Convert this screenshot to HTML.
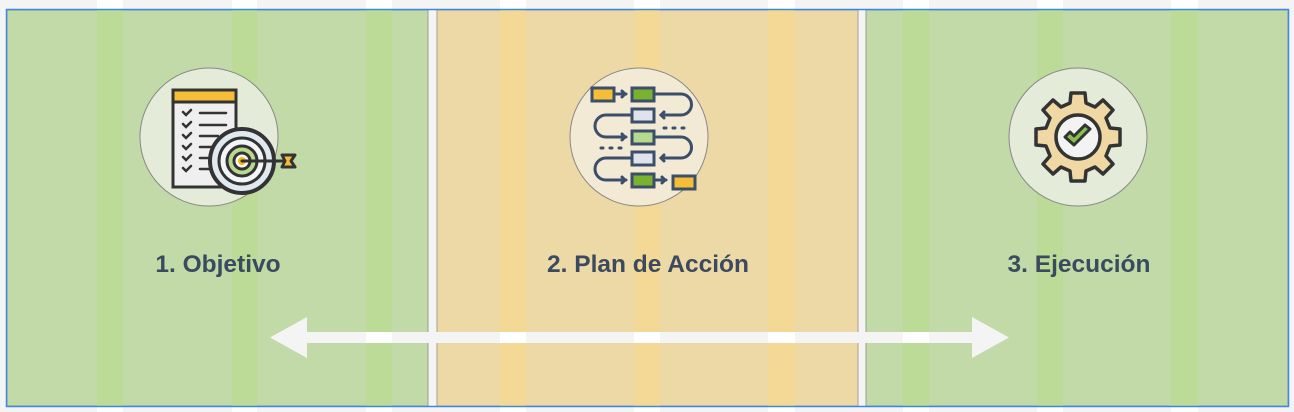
<!DOCTYPE html>
<html><head><meta charset="utf-8"><style>
html,body{margin:0;padding:0;background:#f4f4f4;}
svg{display:block}
text{font-family:"Liberation Sans",sans-serif;font-weight:bold;font-size:24.5px;fill:#3b4a5e;text-anchor:middle}
</style></head><body>
<svg width="1294" height="412" viewBox="0 0 1294 412" xmlns="http://www.w3.org/2000/svg">
<rect width="1294" height="412" fill="#f4f4f4"/>
<g fill="#ffffff">
<rect x="97" y="0" width="26" height="412"/><rect x="232" y="0" width="25" height="412"/><rect x="366" y="0" width="26" height="412"/>
<rect x="500" y="0" width="26" height="412"/><rect x="634" y="0" width="26" height="412"/><rect x="768" y="0" width="27" height="412"/>
<rect x="903" y="0" width="26" height="412"/><rect x="1037" y="0" width="26" height="412"/><rect x="1171" y="0" width="27" height="412"/>
</g>
<rect x="7" y="10" width="421" height="396" fill="#c2d9a8" stroke="#9aa08f" stroke-width="1"/>
<rect x="437" y="10" width="421" height="396" fill="#ecd9a6" stroke="#a9a08a" stroke-width="1"/>
<rect x="866" y="10" width="422" height="396" fill="#c2d9a8" stroke="#9aa08f" stroke-width="1"/>
<g fill="#bcdb96">
<rect x="97" y="10" width="26" height="396"/><rect x="232" y="10" width="25" height="396"/><rect x="366" y="10" width="26" height="396"/>
<rect x="903" y="10" width="26" height="396"/><rect x="1037" y="10" width="26" height="396"/><rect x="1171" y="10" width="27" height="396"/>
</g>
<g fill="#f4d996">
<rect x="500" y="10" width="26" height="396"/><rect x="634" y="10" width="26" height="396"/><rect x="768" y="10" width="27" height="396"/>
</g>
<rect x="6.5" y="9.5" width="1282" height="397" fill="none" stroke="#3b8ae0" stroke-width="1.5"/>

<circle cx="209" cy="137" r="69" fill="#e4ecd9" stroke="#888" stroke-width="1"/>
<circle cx="639" cy="137" r="69" fill="#f3ead6" stroke="#888" stroke-width="1"/>
<circle cx="1078" cy="137" r="69" fill="#e4ecd9" stroke="#888" stroke-width="1"/>

<g stroke="#333" stroke-width="3" fill="none" stroke-linecap="round">
<rect x="173" y="90" width="63" height="97" fill="#efefef"/>
<rect x="174.5" y="91.5" width="60" height="10" fill="#f6bd36" stroke="none"/>
<line x1="173" y1="102" x2="236" y2="102"/>
<g stroke-width="2.5">
<path d="M183 112l3 3 5-5M183 124l3 3 5-5M183 135l3 3 5-5M183 146l3 3 5-5M183 157l3 3 5-5M183 168l3 3 5-5"/>
<path d="M200 113h26M200 125h26M200 136h18M200 147h12M200 158h10M200 169h10"/>
</g>
<circle cx="242" cy="161" r="32" fill="#dfe9ef" stroke-width="4"/>
<circle cx="242" cy="161" r="23" fill="#f2f6f8" stroke-width="3"/>
<circle cx="242" cy="161" r="15" fill="#b9d98e" stroke-width="3"/>
<circle cx="242" cy="161" r="8" fill="#fff" stroke-width="3"/>
<circle cx="242" cy="161" r="3" fill="#f6b80e" stroke="#f6b80e" stroke-width="2"/>
<line x1="242" y1="161" x2="282" y2="161"/>
<path d="M282 155h13l-4 6 4 6h-13l3-6z" fill="#f6bd36" stroke-width="3" stroke-linejoin="round"/>
</g>

<g stroke="#3b4f6b" stroke-width="3" fill="none" stroke-linecap="round">
<rect x="592" y="88" width="22" height="13" fill="#f6bd36"/>
<rect x="632" y="88" width="22" height="13" fill="#78b22f"/>
<rect x="632" y="109" width="22" height="13" fill="#e0e3eb"/>
<rect x="632" y="131" width="22" height="13" fill="#b6d98e"/>
<rect x="632" y="152" width="22" height="13" fill="#e0e3eb"/>
<rect x="632" y="174" width="22" height="13" fill="#78b22f"/>
<rect x="673" y="176" width="22" height="13" fill="#f6bd36"/>
<path d="M616 94h10M622 91l3 3-3 3"/>
<path d="M656 94h25a10 10 0 0 1 0 21h-20M664 112l-3 3 3 3"/>
<path d="M630 115h-24a10 10 0 0 0 0 22h20M622 134l3 3-3 3"/>
<path d="M656 137h25a10 10 0 0 1 0 21h-20M664 155l-3 3 3 3"/>
<path d="M630 158h-24a10 10 0 0 0 0 22h20M622 177l3 3-3 3"/>
<path d="M656 180h10M662 177l3 3-3 3"/>
<path d="M664 128h2M673 128h2M682 128h2M601 148h2M610 148h2M619 148h2" stroke-width="3"/>
</g>

<g transform="translate(1078,137)" stroke="#333" stroke-width="3.5" stroke-linejoin="round">
<path fill="#efd8a3" d="M-7,-44 L7,-44 L8,-34 L17,-30 L25,-37 L35,-27 L28,-19 L32,-9 L42,-8 L42,8 L32,9 L28,19 L35,27 L25,37 L17,30 L8,34 L7,44 L-7,44 L-8,34 L-17,30 L-25,37 L-35,27 L-28,19 L-32,9 L-42,8 L-42,-8 L-32,-9 L-28,-19 L-35,-27 L-25,-37 L-17,-30 L-8,-34 Z"/>
<circle r="22" fill="#f3f3f3"/>
<path d="M-13,0 L-4,8 L12,-8 L7,-12 L-4,-1 L-8,-5 Z" fill="#88c04f" stroke-width="3"/>
</g>

<text x="218" y="272">1. Objetivo</text>
<text x="648" y="272">2. Plan de Acción</text>
<text x="1079" y="272">3. Ejecución</text>

<rect x="305" y="332" width="670" height="11" fill="#f4f4f4"/>
<path d="M270 337.5L307 317V358Z" fill="#f4f4f4"/>
<path d="M1009 337.5L972 317V358Z" fill="#f4f4f4"/>
<g fill="#ffffff">
<rect x="366" y="332" width="26" height="11"/><rect x="500" y="332" width="26" height="11"/><rect x="634" y="332" width="26" height="11"/><rect x="768" y="332" width="27" height="11"/><rect x="903" y="332" width="26" height="11"/>
</g>
</svg>
</body></html>
